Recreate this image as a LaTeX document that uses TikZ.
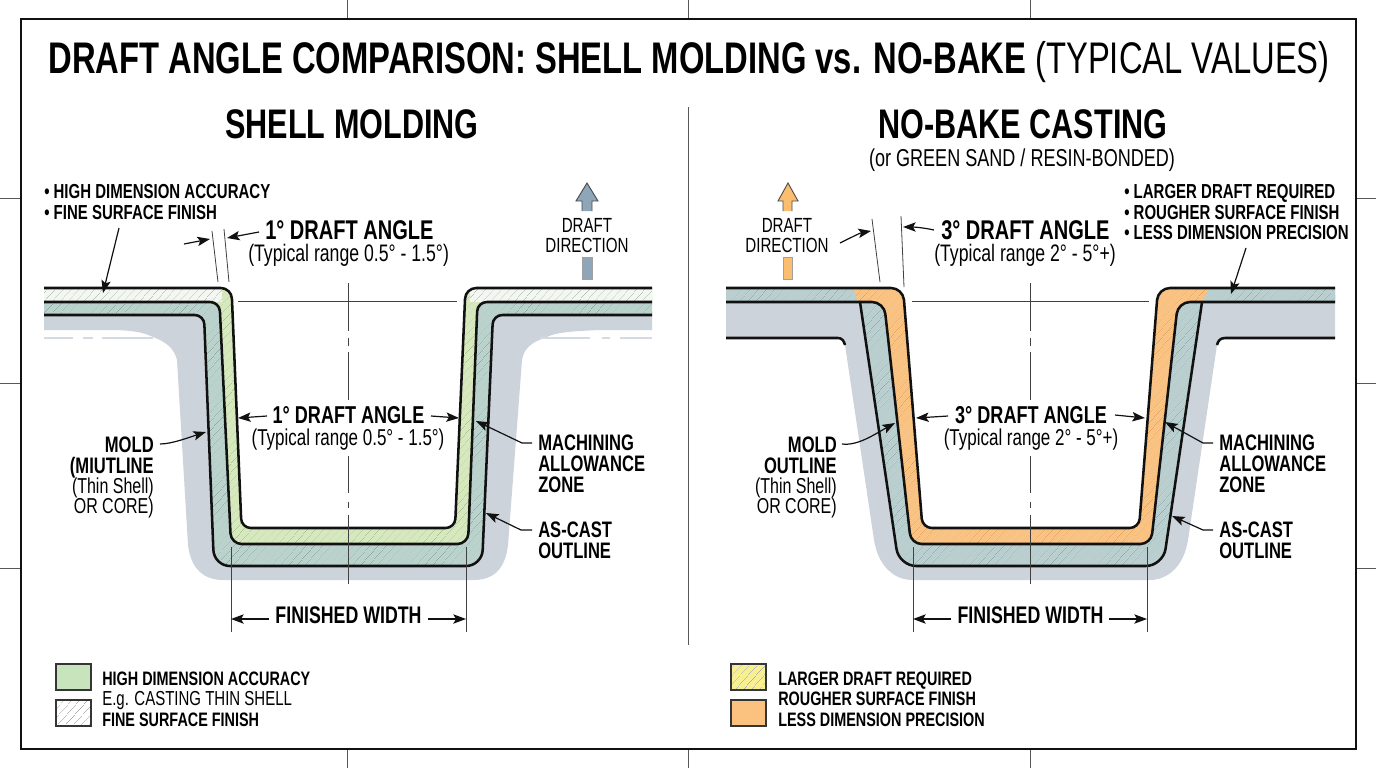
\documentclass[tikz,border=0pt]{standalone}
\usepackage{fontspec}
\setmainfont{Liberation Sans}[FakeStretch=0.74]
\usetikzlibrary{arrows.meta,patterns.meta}
\definecolor{ink}{HTML}{111111}
\definecolor{moldgray}{HTML}{CDD3DA}
\definecolor{zoneteal}{HTML}{B9D2CB}
\definecolor{paleg}{HTML}{D6E9BC}
\definecolor{topwhite}{HTML}{F4F7F1}
\definecolor{orangefill}{HTML}{FBC27F}
\definecolor{topteal}{HTML}{B9CFCF}
\definecolor{legendg}{HTML}{C8E4BD}
\definecolor{legendy}{HTML}{F8F08F}
\definecolor{dirblue}{HTML}{8EA6B8}
\definecolor{dirorange}{HTML}{FBBD70}
\definecolor{hatchteal}{HTML}{8AA59E}
\definecolor{hatchlime}{HTML}{A9BF92}
\definecolor{hatchpale}{HTML}{AFC2B0}
\definecolor{hatchorange}{HTML}{DDA25E}
\definecolor{hatchtop}{HTML}{8FA8A8}
\tikzset{
  hatchgreen/.style={pattern={Lines[angle=48,distance=4pt,line width=.4pt]},pattern color=#1},
  edgeline/.style={draw=ink,line width=1.9pt,line join=round},
  thinline/.style={draw=ink!80,line width=.6pt},
  centerline/.style={draw=ink!80,line width=.6pt,dash pattern=on 36pt off 5pt on 6pt off 5pt},
  centerlow/.style={draw=ink!80,line width=.6pt,dash pattern=on 28pt off 6.5pt on 4.5pt off 5pt on 60pt},
  lead/.style={draw=ink,line width=.9pt,-{Stealth[length=9.5pt,width=7pt,inset=2pt]}},
  tick/.style={draw=ink!70,line width=.6pt},
  hb/.style={font=\bfseries\fontsize{15.2}{17}\selectfont,inner sep=0pt,anchor=base west},
  legb/.style={font=\bfseries\fontsize{14.6}{16}\selectfont,inner sep=0pt,anchor=base west},
  legr/.style={font=\fontsize{15.2}{16}\selectfont,inner sep=0pt,anchor=base west},
  lb/.style={font=\bfseries\fontsize{16.8}{18}\selectfont,inner sep=0pt},
  fwb/.style={font=\bfseries\fontsize{18}{20}\selectfont,inner sep=0pt,anchor=base},
  lr/.style={font=\fontsize{16.2}{18}\selectfont,inner sep=0pt},
  bigb/.style={font=\bfseries\fontsize{20.3}{23}\selectfont,inner sep=0pt,anchor=base west},
  bigr/.style={font=\fontsize{17.9}{20}\selectfont,inner sep=0pt,anchor=base west},
  midb/.style={font=\bfseries\fontsize{18.3}{21}\selectfont,inner sep=0pt,anchor=base},
  midr/.style={font=\fontsize{17.2}{19}\selectfont,inner sep=0pt,anchor=base},
  dirt/.style={font=\fontsize{15.35}{17}\selectfont,inner sep=0pt,anchor=base},
  swatch/.style={draw=ink!85,line width=1pt},
}
\begin{document}
\begin{tikzpicture}[x=0.75pt,y=-0.75pt]
\useasboundingbox (0,0) rectangle (1376,768);
\fill[white] (0,0) rectangle (1376,768);
% frame + ticks
\foreach \tx in {347,688,1030}{\draw[tick] (\tx,0) -- (\tx,19); \draw[tick] (\tx,749) -- (\tx,768);}
\foreach \ty in {198,383,568}{\draw[tick] (0,\ty) -- (21,\ty); \draw[tick] (1356,\ty) -- (1376,\ty);}
\draw[ink,line width=1.6pt] (21,19) rectangle (1356,749);
\draw[ink!70,line width=.7pt] (688,107) -- (688,645);
% titles
\node[inner sep=0pt,anchor=base] (title) at (689,73) {\fontsize{33.2}{37}\selectfont\bfseries DRAFT ANGLE COMPARISON: SHELL MOLDING vs. NO-BAKE \mdseries(TYPICAL VALUES)};
\node[inner sep=0pt,anchor=base,font=\bfseries\fontsize{31}{34}\selectfont] (shelltitle) at (352,138) {SHELL MOLDING};
\node[inner sep=0pt,anchor=base,font=\bfseries\fontsize{31}{34}\selectfont] (baketitle) at (1023,138) {NO-BAKE CASTING};
\node[inner sep=0pt,anchor=base,font=\fontsize{18.3}{20}\selectfont] (bakesub) at (1022,166) {(or GREEN SAND / RESIN-BONDED)};

%%%%% LEFT PANEL
\def\Lone{(30,288) [rounded corners=8pt] -- (231.5,288) [rounded corners=7pt] -- (241.5,528) -- (455,528) [rounded corners=8pt] -- (465.5,288) -- (670,288)}
\def\Ltwo{(30,302) [rounded corners=7pt] -- (219.5,302) [rounded corners=8pt] -- (231,544) -- (468,544) [rounded corners=7pt] -- (477.5,302) -- (670,302)}
\def\Lthree{(30,315) [rounded corners=7pt] -- (204,315) [rounded corners=12pt] -- (214,566) -- (482,566) [rounded corners=7pt] -- (493,315) -- (670,315)}
\begin{scope}
\clip (44,270) rectangle (652,600);
\fill[moldgray] (30,310) [rounded corners=5pt] -- (210,310) -- (222,556) -- (476,556) -- (488,310) [sharp corners] -- (670,310) -- (670,330) -- (600,330)
  .. controls (575,331) and (555,332) .. (545,338) .. controls (532,342) and (524,348) .. (522,360) -- (508,545)
  .. controls (505,570) and (493,580) .. (473,580) -- (223,580) .. controls (205,580) and (191,570) .. (188,545)
  -- (177,360) .. controls (174,348) and (166,342) .. (153,337) .. controls (143,332) and (130,330) .. (110,330) -- (30,330) -- cycle;
\draw[moldgray!85!white,line width=.9pt] (44,338) -- (73,338) (83,338) -- (93,338) (102,338) -- (153,338) (540,338) -- (590,338) (602,338) -- (610,338) (620,338) -- (652,338);
% zone between outer two lines
\fill[zoneteal] \Ltwo -- (670,315) [rounded corners=7pt] -- (493,315) [rounded corners=12pt] -- (482,566) -- (214,566) [rounded corners=7pt] -- (204,315) [sharp corners] -- (30,315) -- cycle;
\fill[hatchgreen=hatchteal] \Ltwo -- (670,315) [rounded corners=7pt] -- (493,315) [rounded corners=12pt] -- (482,566) -- (214,566) [rounded corners=7pt] -- (204,315) [sharp corners] -- (30,315) -- cycle;
% finish zone
\begin{scope}
\clip \Lone -- (670,302) [rounded corners=7pt] -- (477.5,302) [rounded corners=8pt] -- (468,544) -- (231,544) [rounded corners=7pt] -- (219.5,302) [sharp corners] -- (30,302) -- cycle;
\fill[paleg] (30,270) rectangle (670,600);
\fill[hatchgreen=hatchlime] (30,270) rectangle (670,600);
\fill[topwhite] (30,280) rectangle (222,302);
\fill[topwhite] (470,280) rectangle (670,302);
\fill[hatchgreen=hatchpale] (30,280) rectangle (222,302);
\fill[hatchgreen=hatchpale] (470,280) rectangle (670,302);
\end{scope}
\draw[edgeline] \Lone;
\draw[edgeline] \Ltwo;
\draw[edgeline] \Lthree;
\end{scope}
% centre lines
\draw[thinline] (238,301) -- (457,301);
\draw[centerline] (348,283) -- (348,400);
\draw[centerlow] (348,456) -- (348,584);
% extension & dimensions
\draw[thinline] (231,547) -- (231,632);
\draw[thinline] (466,547) -- (466,632);
\node[fwb] (fwL) at (348.5,623) {FINISHED WIDTH};
\coordinate (fwLa) at (231,619); \coordinate (fwLb) at (466,619);
\draw[lead] (269,619) -- (fwLa);
\draw[lead] (428,619) -- (fwLb);
% draft angle callout
\draw[thinline] (212,231) -- (218,282);
\draw[thinline] (224,229) -- (229,282);
\node[bigb] (daL) at (265,239) {1° DRAFT ANGLE};
\node[bigr] (trL) at (248,261) {(Typical range 0.5° - 1.5°)};
\coordinate (daLa) at (184,244); \coordinate (daLb) at (210,239); \coordinate (daLc) at (227,238);
\draw[lead] (daLa) -- (daLb);
\draw[lead] (259,232) -- (daLc);
% bullets
\node[hb] (bL1) at (44,198) {• HIGH DIMENSION ACCURACY};
\node[hb] (bL2) at (44,219) {• FINE SURFACE FINISH};
\coordinate (bLt) at (103,293);
\draw[lead] (119,228) -- (bLt);
% draft direction
\path[fill=dirblue,draw=ink!75,line width=.7pt] (582,211) -- (582,201) -- (576,201) -- (587,183) -- (598,201) -- (592,201) -- (592,211);
\path[fill=dirblue,draw=ink!40,line width=.3pt] (582,257) rectangle (592,279);
\node[dirt] (ddL1) at (587,232) {DRAFT};
\node[dirt] (ddL2) at (587,252) {DIRECTION};
% mid draft
\node[midb] (mdL) at (348.5,423) {1° DRAFT ANGLE};
\node[midr] (mtL) at (348,445) {(Typical range 0.5° - 1.5°)};
\coordinate (mdLa) at (238,418); \coordinate (mdLb) at (459,418);
\draw[lead] (267,416) -- (mdLa);
\draw[lead] (431,416) -- (mdLb);
% mold label
\node[lb,anchor=base east] (mL1) at (154,452) {MOLD};
\node[lb,anchor=base east] (mL2) at (154,473) {(MIUTLINE};
\node[lr,anchor=base east] (mL3) at (154,493) {(Thin Shell)};
\node[lr,anchor=base east] (mL4) at (154,513) {OR CORE)};
\coordinate (mLa) at (206,432);
\draw[lead] (160,444) .. controls (172,444) and (190,437) .. (mLa);
% right labels
\node[lb,anchor=base west] (zL1) at (538,450) {MACHINING};
\node[lb,anchor=base west] (zL2) at (538,471) {ALLOWANCE};
\node[lb,anchor=base west] (zL3) at (538,492) {ZONE};
\node[lb,anchor=base west] (aL1) at (538,537) {AS-CAST};
\node[lb,anchor=base west] (aL2) at (538,558) {OUTLINE};
\coordinate (zLa) at (476,421); \coordinate (aLa) at (486,513);
\draw[lead] (532,443) -- (522,443) -- (zLa);
\draw[lead] (532,530) -- (521,530) -- (aLa);
% legend
\fill[legendg] (56,664) rectangle (91,690);
\draw[swatch] (56,664) rectangle (91,690);
\fill[white] (56,700) rectangle (91,726);
\fill[hatchgreen=ink!35] (56,700) rectangle (91,726);
\draw[swatch] (56,700) rectangle (91,726);
\node[legb] (legL1) at (102,685) {HIGH DIMENSION ACCURACY};
\node[legr] (legL2) at (102,705) {E.g. CASTING THIN SHELL};
\node[legb] (legL3) at (102,726) {FINE SURFACE FINISH};

%%%%% RIGHT PANEL
\def\Rone{(710,288) [rounded corners=9pt] -- (903,288) [rounded corners=7pt] -- (922.5,528) -- (1139,528) [rounded corners=9pt] -- (1158,288) -- (1350,288)}
\def\Rtwo{(710,302) [rounded corners=9pt] -- (884,302) [rounded corners=8pt] -- (911,544) -- (1151,544) [rounded corners=9pt] -- (1178,302) -- (1350,302)}
\begin{scope}
\clip (726,270) rectangle (1335,600);
\fill[moldgray] (710,295) -- (870,295) -- (905,555) -- (1157,555) -- (1192,295) -- (1350,295) -- (1350,338) -- (1225,338) .. controls (1220,339) and (1218,341) .. (1217,345)
  -- (1188,540) .. controls (1184,565) and (1169,580) .. (1149,580) -- (913,580) .. controls (893,580) and (878,565) .. (874,540) -- (845,345) .. controls (844,341) and (842,339) .. (838,338) -- (710,338) -- cycle;
\draw[edgeline] (710,338) -- (838,338) .. controls (842,338) and (844,341) .. (845,345);
\draw[edgeline] (1350,338) -- (1225,338) .. controls (1220,338) and (1218,341) .. (1217,345);
% teal zone
\fill[topteal] (860,302) [rounded corners=9pt] -- (884,302) [rounded corners=8pt] -- (911,544) -- (1151,544) [rounded corners=9pt] -- (1178,302) [sharp corners] -- (1202,302) [rounded corners=13pt] -- (1163,566) -- (899,566) [sharp corners] -- cycle;
\fill[hatchgreen=hatchtop] (860,302) [rounded corners=9pt] -- (884,302) [rounded corners=8pt] -- (911,544) -- (1151,544) [rounded corners=9pt] -- (1178,302) [sharp corners] -- (1202,302) [rounded corners=13pt] -- (1163,566) -- (899,566) [sharp corners] -- cycle;
% finish zone
\begin{scope}
\clip \Rone -- (1350,302) [rounded corners=9pt] -- (1178,302) [rounded corners=8pt] -- (1151,544) -- (911,544) [rounded corners=9pt] -- (884,302) [sharp corners] -- (710,302) -- cycle;
\fill[orangefill] (710,270) rectangle (1350,600);
\fill[hatchgreen=hatchorange] (710,270) rectangle (1350,600);
\fill[topteal] (710,280) -- (850,280) -- (858,302) -- (710,302) -- cycle;
\fill[topteal] (1350,280) -- (1214,280) -- (1202,302) -- (1350,302) -- cycle;
\begin{scope}
\clip (710,280) -- (850,280) -- (858,302) -- (710,302) -- cycle (1350,280) -- (1214,280) -- (1202,302) -- (1350,302) -- cycle;
\fill[hatchgreen=hatchtop] (710,270) rectangle (1350,600);
\end{scope}
\end{scope}
\draw[edgeline] \Rone;
\draw[edgeline] \Rtwo;
\draw[edgeline] (860,302) [rounded corners=13pt] -- (899,566) -- (1163,566) -- (1202,302);
\end{scope}
% centre lines
\draw[thinline] (912,301) -- (1149,301);
\draw[centerline] (1030,283) -- (1030,400);
\draw[centerlow] (1030,456) -- (1030,584);
% extension & dims
\draw[thinline] (913,547) -- (913,632);
\draw[thinline] (1147,547) -- (1147,632);
\node[fwb] (fwR) at (1030.5,623) {FINISHED WIDTH};
\coordinate (fwRa) at (913,619); \coordinate (fwRb) at (1147,619);
\draw[lead] (951,619) -- (fwRa);
\draw[lead] (1109,619) -- (fwRb);
% draft callout
\draw[thinline] (872,219) -- (880,282);
\draw[thinline] (901,216) -- (904,287);
\node[bigb] (daR) at (941,239) {3° DRAFT ANGLE};
\node[bigr] (trR) at (934,261) {(Typical range 2° - 5°+)};
\coordinate (daRa) at (871,231); \coordinate (daRb) at (903,227);
\draw[lead] (840,243) .. controls (850,238) and (860,233) .. (daRa);
\draw[lead] (934,230) .. controls (925,228) and (915,227) .. (daRb);
% bullets
\node[hb] (bR1) at (1124,198) {• LARGER DRAFT REQUIRED};
\node[hb] (bR2) at (1124,219) {• ROUGHER SURFACE FINISH};
\node[hb] (bR3) at (1124,239) {• LESS DIMENSION PRECISION};
\coordinate (bRt) at (1231,294);
\draw[lead] (1246,248) -- (bRt);
% direction
\path[fill=dirorange,draw=ink!75,line width=.7pt] (783,211) -- (783,201) -- (778,201) -- (788,183) -- (798,201) -- (792,201) -- (792,211);
\path[fill=dirorange,draw=ink!40,line width=.3pt] (783,257) rectangle (792,279);
\node[dirt] (ddR1) at (787,232) {DRAFT};
\node[dirt] (ddR2) at (787,252) {DIRECTION};
% mid
\node[midb] (mdR) at (1031,423) {3° DRAFT ANGLE};
\node[midr] (mtR) at (1031,445) {(Typical range 2° - 5°+)};
\coordinate (mdRa) at (916,418); \coordinate (mdRb) at (1145,418);
\draw[lead] (948,416) -- (mdRa);
\draw[lead] (1115,415) -- (mdRb);
% mold
\node[lb,anchor=base east] (mR1) at (837,452) {MOLD};
\node[lb,anchor=base east] (mR2) at (837,473) {OUTLINE};
\node[lr,anchor=base east] (mR3) at (837,493) {(Thin Shell)};
\node[lr,anchor=base east] (mR4) at (837,513) {OR CORE)};
\coordinate (mRa) at (895,423);
\draw[lead] (842,444) .. controls (858,446) and (875,434) .. (mRa);
% right labels
\node[lb,anchor=base west] (zR1) at (1219,450) {MACHINING};
\node[lb,anchor=base west] (zR2) at (1219,471) {ALLOWANCE};
\node[lb,anchor=base west] (zR3) at (1219,492) {ZONE};
\node[lb,anchor=base west] (aR1) at (1219,537) {AS-CAST};
\node[lb,anchor=base west] (aR2) at (1219,558) {OUTLINE};
\coordinate (zRa) at (1165,422); \coordinate (aRa) at (1172,516);
\draw[lead] (1213,443) -- (1203,443) -- (zRa);
\draw[lead] (1213,530) -- (1203,530) -- (aRa);
% legend
\fill[legendy] (731,664) rectangle (766,690);
\fill[hatchgreen=ink!35] (731,664) rectangle (766,690);
\draw[swatch] (731,664) rectangle (766,690);
\fill[orangefill] (731,700) rectangle (766,726);
\draw[swatch] (731,700) rectangle (766,726);
\node[legb] (legR1) at (778,685) {LARGER DRAFT REQUIRED};
\node[legb] (legR2) at (778,705) {ROUGHER SURFACE FINISH};
\node[legb] (legR3) at (778,726) {LESS DIMENSION PRECISION};
\end{tikzpicture}
\end{document}
